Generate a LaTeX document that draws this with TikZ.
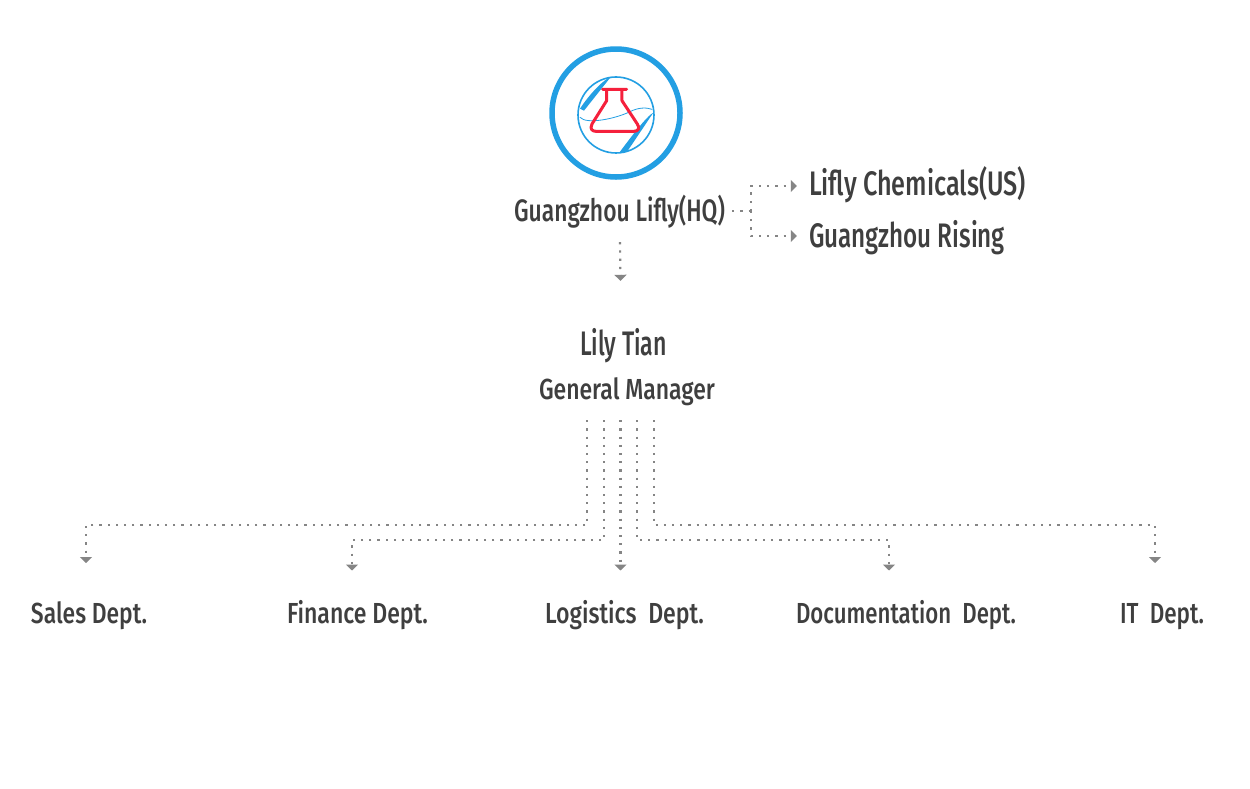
\documentclass[tikz,border=0pt]{standalone}
\usepackage{fontspec}
\usepackage{graphicx}
\setmainfont{Fira Sans}[UprightFont=* Medium]
\usetikzlibrary{arrows.meta}
\definecolor{ringblue}{HTML}{239FE3}
\definecolor{flaskred}{HTML}{F5203C}
\definecolor{linegray}{HTML}{858585}
\definecolor{labdark}{HTML}{3F3F3F}
\newcommand{\fitlabel}[3]{\resizebox{#1pt}{\height}{\fontsize{#2pt}{#2pt}\selectfont #3}}
\tikzset{
  lab/.style={anchor=base,inner sep=0pt,text=labdark,text height=26pt,text depth=8pt},
  conn/.style={draw=linegray,line width=2.2pt,dash pattern=on 2.2pt off 6pt},
  tipdown/.style={-{Triangle[length=6pt,width=12pt,color=linegray]}},
  logoline/.style={draw=ringblue,line cap=round}
}
\begin{document}
\begin{tikzpicture}[x=1pt,y=-1pt]
\useasboundingbox (0,0) rectangle (1250,788);
\fill[white] (0,0) rectangle (1250,788);
% labels
\node[lab] (hq) at (619.5,221) {\fitlabel{211}{31}{Guangzhou Lifly(HQ)}};
\node[lab] (chem) at (917.5,195) {\fitlabel{217}{34}{Lifly Chemicals(US)}};
\node[lab] (rising) at (907,247) {\fitlabel{196}{34}{Guangzhou Rising}};
\node[lab] (lily) at (623.5,355) {\fitlabel{87}{34}{Lily Tian}};
\node[lab] (gm) at (627,399) {\fitlabel{176}{29}{General Manager}};
\node[lab] (sales) at (89,623) {\fitlabel{116}{29}{Sales Dept.}};
\node[lab] (fin) at (357.5,623) {\fitlabel{141}{29}{Finance Dept.}};
\node[lab] (log) at (624.5,623) {\fitlabel{159}{29}{Logistics\ \ Dept.}};
\node[lab] (doc) at (906,623) {\fitlabel{220}{29}{Documentation\ \ Dept.}};
\node[lab] (it) at (1162,623) {\fitlabel{84}{29}{IT\ \ Dept.}};
% logo
\node[circle,draw=ringblue,line width=5.5pt,minimum size=128pt,inner sep=0pt] (logo) at (616,113) {};
\begin{scope}[shift={(530,30)},x=.3333pt,y=-.3333pt]
  \draw[logoline,line width=1.6pt] (258,255) circle[radius=114];
  \fill[ringblue] (243,140) .. controls (222,148) and (180,190) .. (150,236) -- (162,242) -- cycle;
  \fill[ringblue] (370,248) .. controls (350,258) and (300,325) .. (268,368) -- (292,364) -- cycle;
  \draw[logoline,line width=.8pt] (150,262) .. controls (170,285) and (260,265) .. (300,245) .. controls (325,232) and (350,232) .. (366,238);
  \draw[flaskred,line width=3pt,line cap=round,line join=round]
    (218,178) -- (290,178)
    (230,178) -- (230,212) -- (186,282) .. controls (178,298) and (188,304) .. (198,304)
    -- (312,304) .. controls (326,304) and (330,294) .. (322,282) -- (276,212) -- (276,178);
\end{scope}
% connectors, top
\draw[conn,tipdown] ([xshift=.5pt,yshift=-13pt]hq.south) -- ([xshift=-3pt,yshift=48pt]lily.north);
\coordinate (branch) at ([xshift=26pt,yshift=10pt]hq.base east);
\draw[conn] ([xshift=7pt,yshift=10pt]hq.base east) -- (branch);
\draw[conn,-{Triangle[length=6pt,width=12pt,color=linegray]}] (branch) |- ([xshift=-12pt,yshift=9pt]chem.base west);
\draw[conn,-{Triangle[length=6pt,width=12pt,color=linegray]}] (branch) |- ([xshift=-12pt,yshift=11pt]rising.base west);
% connectors, bottom
\draw[conn,tipdown] ([xshift=-40pt,yshift=-13pt]gm.south) |- ([xshift=-3pt,yshift=-118pt]gm.south -| sales.north) -- ([xshift=-3pt,yshift=60pt]sales.base);
\draw[conn,tipdown] ([xshift=-23pt,yshift=-13pt]gm.south) |- ([xshift=-5.5pt,yshift=-133pt]gm.south -| fin.north) -- ([xshift=-5.5pt,yshift=52.5pt]fin.base);
\draw[conn,tipdown] ([xshift=-6.5pt,yshift=-13pt]gm.south) -- ([xshift=-4pt,yshift=52.5pt]log.base);
\draw[conn,tipdown] ([xshift=10pt,yshift=-13pt]gm.south) |- ([xshift=-17pt,yshift=-133pt]gm.south -| doc.north) -- ([xshift=-17pt,yshift=52.5pt]doc.base);
\draw[conn,tipdown] ([xshift=27pt,yshift=-13pt]gm.south) |- ([xshift=-7pt,yshift=-118pt]gm.south -| it.north) -- ([xshift=-7pt,yshift=60pt]it.base);
\end{tikzpicture}
\end{document}
